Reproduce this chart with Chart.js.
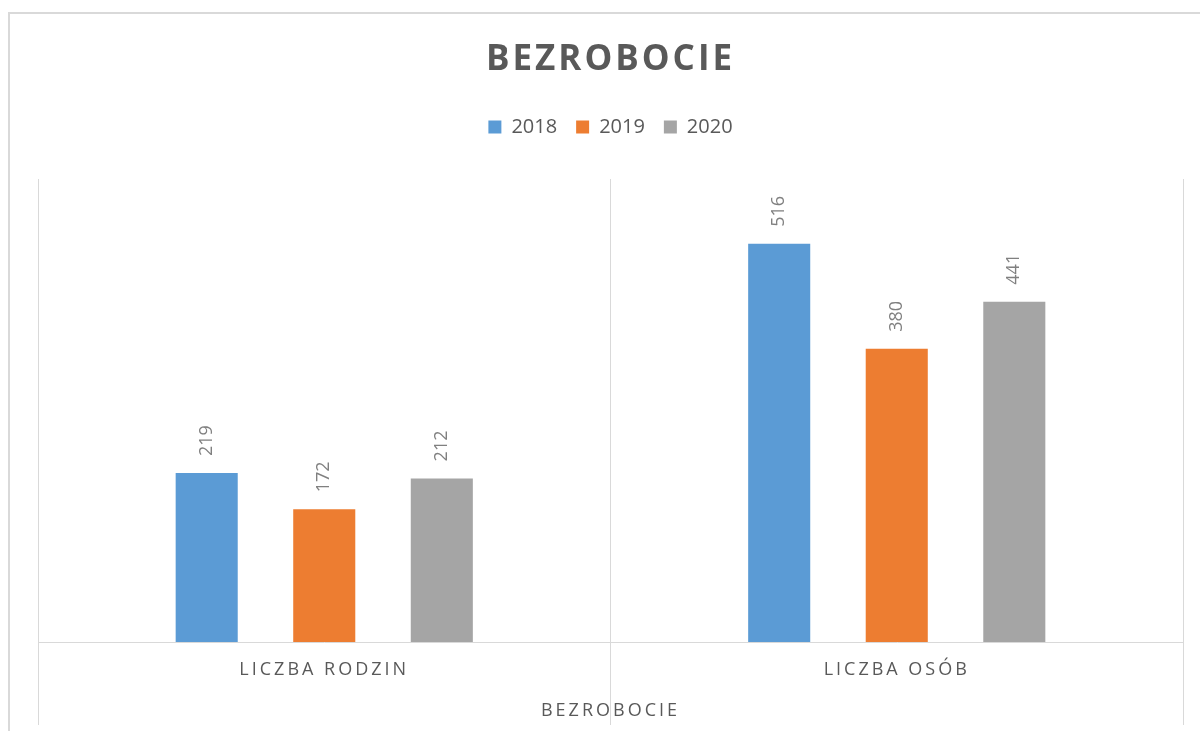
<!DOCTYPE html>
<html>
<head>
<meta charset="utf-8">
<script src="https://cdn.jsdelivr.net/npm/chart.js@4.4.1/dist/chart.umd.min.js"></script>
<style>
  html, body { margin: 0; padding: 0; background: #ffffff; overflow: hidden; width: 1200px; height: 731px; }
  #frame { position: absolute; left: 8px; top: 12px; width: 1400px; height: 1000px; border-left: 2px solid #d9d9d9; border-top: 2px solid #d9d9d9; box-sizing: border-box; }
  #c { position: absolute; left: 0; top: 0; }
</style>
</head>
<body>
<div id="frame"></div>
<canvas id="c" width="1200" height="731"></canvas>
<script>
const categories = ['LICZBA RODZIN', 'LICZBA OSÓB'];
const groupLabel = 'BEZROBOCIE';
const seriesNames = ['2018', '2019', '2020'];
const values2018 = [219, 516];
const values2019 = [172, 380];
const values2020 = [212, 441];
const seriesColors = ['#5B9BD5', '#ED7D31', '#A5A5A5'];

const textColor = '#595959';
const gridColor = '#d9d9d9';
const fontFamily = '"Open Sans", "Noto Sans", sans-serif';

const spacingPlugin = {
  id: 'spacing',
  beforeDraw(chart) {
    if (chart.legend && !chart.legend._wrapped) {
      const orig = chart.legend.draw.bind(chart.legend);
      chart.legend.draw = function () {
        const ctx = chart.ctx;
        const prev = ctx.letterSpacing;
        ctx.letterSpacing = '0px';
        orig();
        ctx.letterSpacing = prev;
      };
      chart.legend._wrapped = true;
    }
    chart.ctx.letterSpacing = '3px';
  },
  afterDraw(chart) {
    chart.ctx.letterSpacing = '0px';
  }
};

const barLabelPlugin = {
  id: 'barLabels',
  afterDatasetsDraw(chart) {
    const ctx = chart.ctx;
    ctx.save();
    ctx.letterSpacing = '0px';
    ctx.font = '18px ' + fontFamily;
    ctx.fillStyle = '#808080';
    ctx.textAlign = 'left';
    ctx.textBaseline = 'middle';
    chart.data.datasets.forEach((ds, di) => {
      const meta = chart.getDatasetMeta(di);
      meta.data.forEach((bar, i) => {
        ctx.save();
        ctx.translate(bar.x, bar.y - 17);
        ctx.rotate(-Math.PI / 2);
        ctx.fillText(String(ds.data[i]), 0, 0);
        ctx.restore();
      });
    });
    ctx.restore();
  }
};

new Chart(document.getElementById('c'), {
  type: 'bar',
  data: {
    labels: categories,
    datasets: [
      { label: seriesNames[0], data: values2018, backgroundColor: seriesColors[0] },
      { label: seriesNames[1], data: values2019, backgroundColor: seriesColors[1] },
      { label: seriesNames[2], data: values2020, backgroundColor: seriesColors[2] }
    ]
  },
  options: {
    responsive: false,
    animation: false,
    devicePixelRatio: 1,
    categoryPercentage: 0.616,
    barPercentage: 0.528,
    layout: { padding: { left: 38, right: 17, top: 0, bottom: 0 } },
    plugins: {
      title: {
        display: true,
        text: 'BEZROBOCIE',
        color: textColor,
        font: { family: fontFamily, size: 35, weight: 'bold', lineHeight: 1.2 },
        padding: { top: 39, bottom: 17 }
      },
      legend: {
        display: true,
        position: 'top',
        labels: {
          color: textColor,
          font: { family: fontFamily, size: 20 },
          boxWidth: 13,
          boxHeight: 13,
          padding: 19
        }
      },
      tooltip: { enabled: false }
    },
    scales: {
      x: {
        type: 'category',
        position: 'bottom',
        grid: {
          display: true,
          offset: true,
          color: gridColor,
          tickColor: gridColor,
          lineWidth: 1,
          drawOnChartArea: true,
          drawTicks: true,
          tickLength: 83
        },
        border: { display: true, color: gridColor, width: 1 },
        ticks: {
          color: textColor,
          font: { family: fontFamily, size: 18, lineHeight: 1.2 },
          padding: -66,
          maxRotation: 0,
          autoSkip: false
        },
        title: {
          display: true,
          text: groupLabel,
          color: textColor,
          font: { family: fontFamily, size: 18, lineHeight: 1.2 },
          padding: { top: 22, bottom: 9 }
        },
        afterFit: (s) => { s.height = 89; }
      },
      gap: {
        type: 'category',
        position: 'top',
        display: true,
        grid: { display: false },
        border: { display: false },
        ticks: { display: false },
        afterFit: (s) => { s.height = 32; }
      },
      y: {
        type: 'linear',
        display: false,
        min: 0,
        max: 600
      }
    }
  },
  plugins: [spacingPlugin, barLabelPlugin]
});
</script>
</body>
</html>
